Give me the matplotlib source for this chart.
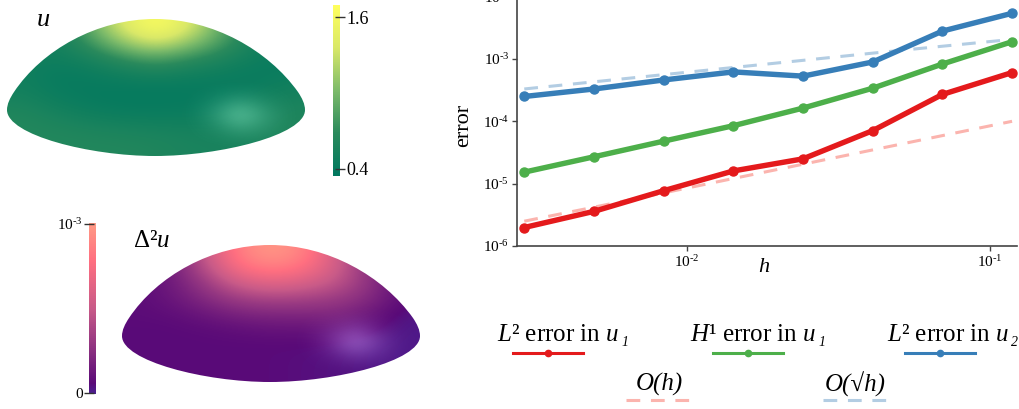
import matplotlib
matplotlib.use("Agg")
import matplotlib.pyplot as plt
import numpy as np
from matplotlib.colors import LinearSegmentedColormap, to_rgb
from matplotlib.path import Path
from matplotlib.patches import PathPatch

plt.rcParams['font.family'] = ['Liberation Serif', 'DejaVu Serif']
plt.rcParams['mathtext.fontset'] = 'custom'
plt.rcParams['mathtext.rm'] = 'Liberation Serif'
plt.rcParams['mathtext.it'] = 'Liberation Serif:italic'

W, H = 1019, 409

# convergence data
h = [0.00292, 0.00496, 0.0084, 0.01427, 0.0242, 0.0411, 0.0697, 0.1182]
l2_u1 = [1.98e-6, 3.6e-6, 7.7e-6, 1.6e-5, 2.5e-5, 7.1e-5, 2.7e-4, 6.05e-4]
h1_u1 = [1.53e-5, 2.7e-5, 4.8e-5, 8.5e-5, 1.63e-4, 3.4e-4, 8.3e-4, 1.89e-3]
l2_u2 = [2.5e-4, 3.3e-4, 4.6e-4, 6.2e-4, 5.3e-4, 8.95e-4, 2.8e-3, 5.4e-3]
ref_h = [2.5e-6, 4.2e-6, 7.1e-6, 1.21e-5, 2.05e-5, 3.48e-5, 5.9e-5, 1.0e-4]
ref_sqrt_h = [3.3e-4, 4.3e-4, 5.6e-4, 7.3e-4, 9.5e-4, 1.24e-3, 1.6e-3, 2.06e-3]

y_ticks = [1e-6, 1e-5, 1e-4, 1e-3, 1e-2]
y_tick_labels = ['10$^{\\text{-6}}$', '10$^{\\text{-5}}$', '10$^{\\text{-4}}$',
                 '10$^{\\text{-3}}$', '10$^{\\text{-2}}$']
x_ticks = [1e-2, 1e-1]
x_tick_labels = ['10$^{\\text{-2}}$', '10$^{\\text{-1}}$']

# surface values estimated on a coarse grid, rows top to bottom
u_field = [
    [.50, .50, .90, 1.40, 1.68, 1.40, .90, .50, .50],
    [.50, .50, .75, 1.12, 1.38, 1.12, .80, .52, .45],
    [.50, .47, .55, .74, .88, .74, .60, .47, .43],
    [.48, .42, .44, .50, .56, .50, .46, .42, .44],
    [.50, .42, .41, .41, .41, .41, .42, .44, .50],
    [.56, .47, .42, .40, .40, .41, .43, .48, .56],
    [.62, .56, .50, .47, .46, .46, .48, .52, .60],
    [.62, .62, .60, .58, .56, .54, .53, .56, .60],
    [.62, .62, .62, .62, .60, .56, .55, .56, .60],
]
lap_field = [
    [.06, .15, .50, .85, 1.0, .88, .55, .20, .06],
    [.06, .15, .42, .76, .86, .78, .54, .25, .06],
    [.07, .14, .30, .54, .64, .58, .46, .26, .07],
    [.07, .12, .22, .33, .38, .36, .32, .22, .07],
    [.07, .08, .13, .19, .21, .21, .22, .14, .03],
    [.06, .06, .07, .09, .11, .11, .12, .07, .02],
    [.06, .06, .06, .06, .06, .06, .05, .03, .02],
    [.06, .06, .06, .06, .06, .05, .04, .03, .02],
    [.06, .06, .06, .06, .06, .05, .04, .03, .02],
]
# the shiny spot on the right of both domes
sheen = [
    [0, 0, 0, 0, 0],
    [0, .15, .40, .15, 0],
    [0, .35, 1.0, .40, 0],
    [0, .12, .40, .20, 0],
    [0, 0, 0, 0, 0],
]

green_cmap = LinearSegmentedColormap.from_list(
    'u', ['#00785f', '#2a8a5c', '#7dbb6a', '#d9e868', '#ffff5c'])
purple_cmap = LinearSegmentedColormap.from_list(
    'lap', [(0, '#4b2090'), (0.06, '#5a0a78'), (0.25, '#8a2f80'),
            (0.5, '#c85a88'), (0.78, '#ff6f80'), (1, '#ff9a85')])


def dome_path(dx, dy):
    verts = [(7, 110), (7, 104), (10, 98), (14, 92),
             (42, 50), (97, 19), (155, 19),
             (213, 19), (268, 50), (298, 92),
             (302, 98), (305, 104), (305, 110),
             (305, 135), (220, 156), (155, 156),
             (90, 156), (7, 135), (7, 110)]
    codes = [Path.MOVETO] + [Path.CURVE4] * 18
    return Path([(x + dx, y + dy) for x, y in verts], codes)


def draw_dome(ax, field, cmap, vmin, vmax, sheen_color, dx, dy):
    clip = PathPatch(dome_path(dx, dy), transform=ax.transData, fc='none', ec='none')
    ax.add_patch(clip)
    im = ax.imshow(field, cmap=cmap, vmin=vmin, vmax=vmax, interpolation='bicubic',
                   extent=(7 + dx, 305 + dx, 156 + dy, 19 + dy), aspect='auto')
    im.set_clip_path(clip)
    rgba = np.zeros((5, 5, 4))
    rgba[..., :3] = to_rgb(sheen_color)
    rgba[..., 3] = np.array(sheen) * 0.62
    spot = ax.imshow(rgba, interpolation='bicubic',
                     extent=(180 + dx, 300 + dx, 150 + dy, 80 + dy), aspect='auto')
    spot.set_clip_path(clip)


fig = plt.figure(figsize=(W / 100, H / 100), dpi=100)

# overlay in pixel coordinates for the domes, labels and legend
bg = fig.add_axes([0, 0, 1, 1])
bg.set_xlim(0, W)
bg.set_ylim(H, 0)
bg.axis('off')

draw_dome(bg, u_field, green_cmap, 0.347, 1.695, '#8ff0c8', 0, 0)
draw_dome(bg, lap_field, purple_cmap, 0, 1, '#d0a0ff', 115, 226)
bg.set_xlim(0, W)
bg.set_ylim(H, 0)

bg.text(43, 20, '$u$', fontsize=19, ha='center', va='center')
bg.text(133, 241, 'Δ²$u$', fontsize=18, ha='left', va='center')

# colorbars
cax1 = fig.add_axes([333 / W, 1 - 175.7 / H, 7 / W, 170.7 / H])
cb1 = fig.colorbar(plt.cm.ScalarMappable(plt.Normalize(0.347, 1.695), green_cmap),
                   cax=cax1, ticks=[0.4, 1.6])
cb1.ax.set_yticklabels(['0.4', '1.6'], fontsize=13)
cb1.outline.set_visible(False)
cb1.ax.tick_params(direction='inout', length=7, width=1, color='#333333', pad=1)

cax2 = fig.add_axes([89 / W, 1 - 393.7 / H, 6.5 / W, 170.7 / H])
cb2 = fig.colorbar(plt.cm.ScalarMappable(plt.Normalize(-0.006e-3, 1.006e-3), purple_cmap),
                   cax=cax2, ticks=[0, 1e-3])
cb2.ax.yaxis.set_ticks_position('left')
cb2.ax.set_yticklabels(['0', '10$^{\\text{-3}}$'], fontsize=11)
cb2.outline.set_visible(False)
cb2.ax.tick_params(direction='inout', length=7, width=1, color='#333333', pad=1)

# convergence plot, top of the axes runs just past the figure edge
ax = fig.add_axes([517 / W, 1 - 246 / H, 500 / W, 249.4 / H])
ax.set_xscale('log')
ax.set_yscale('log')
ax.plot(h, ref_h, color='#fbb4ae', lw=2.2, dashes=(4.5, 3.5))
ax.plot(h, ref_sqrt_h, color='#b3cde3', lw=2.2, dashes=(4.5, 3.5))
ax.plot(h, l2_u1, color='#e41a1c', lw=3.9, marker='o', ms=6.5)
ax.plot(h, h1_u1, color='#4daf4a', lw=3.9, marker='o', ms=6.5)
ax.plot(h, l2_u2, color='#377eb8', lw=3.9, marker='o', ms=6.5)
ax.set_xlim(0.002763, 0.1227)
ax.set_ylim(1e-6, 1e-2)
ax.set_xticks(x_ticks)
ax.set_xticklabels(x_tick_labels, fontsize=11)
ax.set_yticks(y_ticks)
ax.set_yticklabels(y_tick_labels, fontsize=11)
ax.minorticks_off()
ax.spines['top'].set_visible(False)
ax.spines['right'].set_visible(False)
for side in ['left', 'bottom']:
    ax.spines[side].set_color('#444444')
    ax.spines[side].set_linewidth(1.2)
ax.tick_params(length=3.5, width=1, color='#444444', pad=2)
ax.patch.set_alpha(0)

bg.text(464, 125, 'error', fontsize=16, rotation=90, ha='center', va='center')
bg.text(764, 268, '$h$', fontsize=16, ha='center', va='center')

# hand placed legend, text sits above the handles
entries = [
    ('$L$² error in $u$', '1', 497, 513, 583, '#e41a1c'),
    ('$H$¹ error in $u$', '1', 690, 713, 783, '#4daf4a'),
    ('$L$² error in $u$', '2', 887, 905, 975, '#377eb8'),
]
for label, sub, tx, x0, x1, col in entries:
    t = bg.text(tx, 335, label, fontsize=18, ha='left', va='center')
    end = t.get_window_extent(fig.canvas.get_renderer()).x1
    bg.text(end + 2, 343, sub, fontsize=10, style='italic', ha='left', va='center')
    bg.plot([x0, x1], [353, 353], color=col, lw=2.2)
    bg.plot([(x0 + x1) / 2], [353], 'o', color=col, ms=4.5)

bg.text(659, 384, 'O(h)', fontsize=18, style='italic', ha='center', va='center')
bg.plot([626, 690], [400, 400], color='#fbb4ae', lw=2.2, dashes=(4.5, 3.5))
bg.text(855, 384, 'O(√h)', fontsize=18, style='italic', ha='center', va='center')
bg.plot([823, 888], [400, 400], color='#b3cde3', lw=2.2, dashes=(4.5, 3.5))
bg.set_xlim(0, W)
bg.set_ylim(H, 0)

fig.savefig('out.png', dpi=100)
